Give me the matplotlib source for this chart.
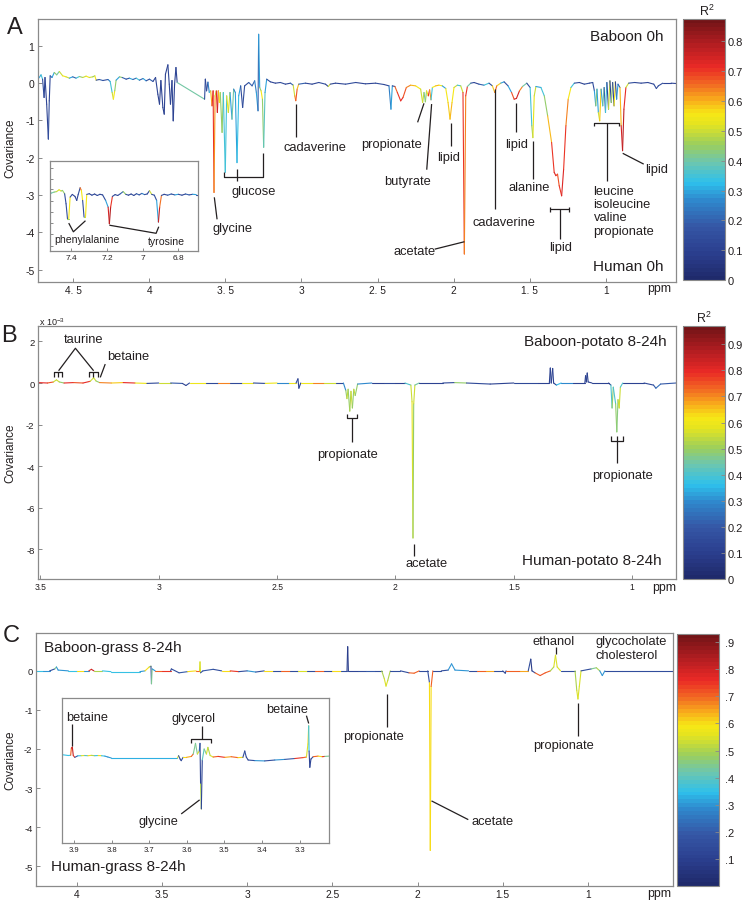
import numpy as np
import matplotlib
matplotlib.use('Agg')
import matplotlib.pyplot as plt
from matplotlib.collections import LineCollection
from matplotlib.colors import LinearSegmentedColormap, Normalize
from matplotlib.cm import ScalarMappable

plt.rcParams['font.family'] = ['Liberation Sans', 'DejaVu Sans']
plt.rcParams['axes.unicode_minus'] = False
plt.rcParams['mathtext.fontset'] = 'custom'
plt.rcParams['mathtext.rm'] = 'Liberation Sans'
plt.rcParams['mathtext.it'] = 'Liberation Sans:italic'

# ---------------- data: panel A (Baboon 0h vs Human 0h) ----------------
a_ppm = [4.725, 4.710, 4.700, 4.690, 4.684, 4.673, 4.662, 4.656, 4.650, 4.638, 4.623, 4.607, 4.590, 4.568,
         4.546, 4.524, 4.502, 4.480, 4.458, 4.436, 4.414, 4.393, 4.370, 4.357, 4.348, 4.327, 4.304, 4.270,
         4.256, 4.243, 4.235, 4.226, 4.217, 4.195, 4.177, 4.151, 4.130, 4.107, 4.085, 4.064, 4.040, 4.020,
         3.998, 3.975, 3.958, 3.943, 3.932, 3.923, 3.910, 3.901, 3.893, 3.877, 3.868, 3.860, 3.850, 3.842,
         3.833, 3.824, 3.816,
         3.636, 3.631, 3.623, 3.614, 3.605, 3.596, 3.587, 3.580, 3.574, 3.567, 3.559, 3.552, 3.546, 3.539,
         3.533, 3.521, 3.513, 3.500, 3.491, 3.480, 3.469, 3.456, 3.445, 3.434, 3.423, 3.412, 3.399, 3.386,
         3.373, 3.346, 3.324, 3.307, 3.296, 3.285, 3.281, 3.274, 3.265, 3.256, 3.248, 3.239, 3.228, 3.204,
         3.171, 3.138, 3.105, 3.072, 3.054, 3.044, 3.037, 3.028, 3.018, 2.974, 2.930, 2.886, 2.842, 2.824,
         2.811, 2.776, 2.710, 2.644, 2.579, 2.513, 2.458, 2.425, 2.412, 2.403, 2.386, 2.370, 2.348, 2.333,
         2.311, 2.283, 2.250,
         2.217, 2.204, 2.195, 2.186, 2.178, 2.167, 2.158, 2.149, 2.140, 2.118, 2.097, 2.075, 2.052, 2.037,
         2.024, 2.011, 1.998, 1.976, 1.954, 1.939, 1.930, 1.921, 1.910, 1.888, 1.866, 1.834, 1.801, 1.768,
         1.746, 1.730, 1.717, 1.691, 1.669, 1.643, 1.620, 1.603, 1.588, 1.568, 1.548, 1.520, 1.498, 1.487,
         1.480, 1.471, 1.460, 1.427, 1.405, 1.383, 1.357, 1.340, 1.329, 1.318, 1.307, 1.291, 1.278, 1.263,
         1.248, 1.230, 1.208, 1.175, 1.142, 1.109, 1.087, 1.076, 1.067, 1.059, 1.050, 1.041, 1.032, 1.021,
         1.012, 1.003, 0.994, 0.983, 0.974, 0.965, 0.956, 0.947, 0.938, 0.930, 0.921, 0.908, 0.900, 0.891,
         0.882, 0.869, 0.851, 0.812, 0.769, 0.725, 0.686, 0.669, 0.656, 0.627, 0.572, 0.540]
a_cov = [0.134, 0.223, 0.107, -0.384, 0.152, -0.563, -1.50, -0.474, 0.197, 0.152, 0.286, 0.223, 0.313, 0.197,
         0.170, 0.134, 0.170, 0.134, 0.179, 0.152, 0.188, 0.152, 0.170, 0.197, 0.080, 0.098, 0.071, 0.098,
         0.045, -0.250, -0.429, -0.206, 0.080, 0.170, 0.152, 0.107, 0.134, 0.098, 0.134, 0.080, 0.125, 0.063,
         0.107, 0.045, 0.152, -0.295, -0.563, 0.071, -0.652, -0.831, 0.241, 0.491, -0.027, -0.563, 0.071, -1.01,
         -0.027, 0.420, 0.018,
         -0.43, 0.107, -0.206, 0.027, -0.25, -0.206, -0.608, -0.206, -2.93, -0.34, -0.206, -0.786, -0.206, -0.519,
         -0.25, -1.32, -0.25, -2.39, -0.34, -0.786, -0.25, -0.965, -0.16, -0.25, -2.13, -0.34, -0.072, -0.652,
         -0.072, 0.018, -0.072, 0.063, -0.25, -0.741, 1.31, -0.116, -0.206, -0.429, -1.72, -0.25, 0.107, 0.036,
         0.0, 0.018, -0.027, 0.0, -0.054, -0.34, -0.47, -0.16, -0.027, 0.0, -0.027, 0.018, -0.027, -0.089,
         -0.027, 0.0, -0.027, 0.018, -0.018, 0.0, -0.036, -0.072, -0.697, -0.072, -0.089, -0.25, -0.474, -0.385,
         -0.116, -0.054, -0.072,
         -0.16, -0.519, -0.25, -0.5, -0.206, -0.34, -0.18, -0.447, -0.116, -0.072, -0.054, -0.072, -0.143, -0.519,
         -0.965, -0.519, -0.116, -0.054, -0.072, -0.25, -4.58, -0.34, -0.089, 0.0, 0.018, -0.027, -0.054, 0.0,
         -0.072, -0.25, -0.072, 0.0, 0.036, -0.072, -0.25, -0.429, -0.41, -0.206, -0.089, 0.0, -0.116, -1.14,
         -1.46, -0.34, -0.089, -0.116, -0.34, -0.875, -1.59, -2.39, -2.48, -2.44, -2.75, -3.02, -2.31, -1.14,
         -0.429, -0.116, 0.0, 0.018, -0.027, 0.0, 0.018, -0.206, -0.608, -0.16, -0.786, -1.01, -0.16, -0.608,
         -0.116, -0.786, 0.018, -0.697, 0.063, -0.519, 0.018, -0.608, 0.036, -0.429, -0.027, -0.116, -1.14, -1.81,
         -0.697, -0.116, 0.0, 0.018, 0.0, 0.018, -0.027, -0.143, -0.072, 0.0, 0.0, -0.009]
a_r2 = [0.30, 0.35, 0.15, 0.12, 0.12, 0.12, 0.15, 0.12, 0.20, 0.30, 0.45, 0.40, 0.50, 0.55,
        0.50, 0.30, 0.20, 0.35, 0.45, 0.50, 0.55, 0.50, 0.45, 0.55, 0.15, 0.20, 0.15, 0.25,
        0.35, 0.50, 0.55, 0.45, 0.30, 0.45, 0.20, 0.15, 0.30, 0.20, 0.35, 0.20, 0.30, 0.15,
        0.20, 0.12, 0.12, 0.10, 0.10, 0.12, 0.10, 0.10, 0.12, 0.12, 0.12, 0.10, 0.12, 0.10,
        0.12, 0.12, 0.40,
        0.15, 0.12, 0.15, 0.25, 0.35, 0.60, 0.72, 0.70, 0.62, 0.50, 0.72, 0.75, 0.60, 0.55,
        0.45, 0.45, 0.35, 0.35, 0.55, 0.50, 0.30, 0.40, 0.25, 0.30, 0.33, 0.30, 0.15, 0.15,
        0.15, 0.20, 0.20, 0.25, 0.30, 0.20, 0.30, 0.45, 0.55, 0.45, 0.38, 0.30, 0.15, 0.12,
        0.12, 0.15, 0.12, 0.20, 0.50, 0.62, 0.68, 0.60, 0.20, 0.12, 0.12, 0.15, 0.12, 0.50,
        0.12, 0.12, 0.15, 0.12, 0.12, 0.15, 0.12, 0.25, 0.30, 0.12, 0.66, 0.70, 0.72, 0.68,
        0.63, 0.60, 0.55,
        0.50, 0.50, 0.40, 0.45, 0.55, 0.72, 0.62, 0.35, 0.55, 0.60, 0.55, 0.30, 0.55, 0.58,
        0.60, 0.56, 0.50, 0.35, 0.50, 0.70, 0.63, 0.70, 0.40, 0.15, 0.12, 0.20, 0.35, 0.15,
        0.58, 0.66, 0.58, 0.30, 0.15, 0.30, 0.68, 0.75, 0.75, 0.63, 0.40, 0.15, 0.35, 0.45,
        0.52, 0.50, 0.30, 0.35, 0.45, 0.60, 0.70, 0.73, 0.70, 0.68, 0.70, 0.73, 0.70, 0.63,
        0.55, 0.35, 0.15, 0.10, 0.15, 0.12, 0.15, 0.30, 0.45, 0.30, 0.50, 0.58, 0.30, 0.40,
        0.20, 0.35, 0.12, 0.50, 0.10, 0.45, 0.10, 0.55, 0.12, 0.30, 0.20, 0.60, 0.75, 0.77,
        0.72, 0.50, 0.15, 0.12, 0.12, 0.12, 0.15, 0.15, 0.15, 0.12, 0.12, 0.12]

# panel A inset (aromatic region)
ai_ppm = [7.529, 7.513, 7.497, 7.483, 7.469, 7.458, 7.450, 7.438, 7.430, 7.422, 7.415, 7.407, 7.395, 7.380,
          7.370, 7.362, 7.351, 7.344, 7.337, 7.329, 7.321, 7.314, 7.300, 7.285, 7.270, 7.255, 7.240, 7.225,
          7.208, 7.194, 7.187, 7.180, 7.170, 7.155, 7.140, 7.125, 7.110, 7.095, 7.080, 7.065, 7.050, 7.035,
          7.020, 7.005, 6.990, 6.975, 6.962, 6.950, 6.935, 6.922, 6.912, 6.905, 6.895, 6.880, 6.860, 6.840,
          6.820, 6.800, 6.780, 6.760, 6.740, 6.720, 6.700, 6.690]
ai_cov = [0.078, 0.10, 0.133, 0.15, 0.211, 0.17, 0.189, 0.078, -0.256, -0.756, -0.756, -0.033, 0.056, -0.011,
          -0.144, 0.05, 0.278, 0.189, -0.144, -0.70, -0.70, 0.056, 0.08, 0.03, 0.07, 0.02, 0.06, 0.04,
          -0.144, -0.367, -0.922, -0.367, -0.011, 0.05, 0.02, 0.08, 0.15, 0.06, 0.03, 0.07, 0.02, 0.08,
          0.04, 0.09, 0.05, 0.07, 0.18, 0.06, 0.03, -0.144, -0.867, -0.367, 0.022, 0.06, 0.03, 0.07,
          0.04, 0.06, 0.03, 0.07, 0.04, 0.06, 0.05, 0.05]
ai_r2 = [0.35, 0.40, 0.45, 0.50, 0.55, 0.45, 0.45, 0.15, 0.15, 0.45, 0.55, 0.15, 0.12, 0.12,
         0.12, 0.15, 0.65, 0.55, 0.15, 0.45, 0.55, 0.15, 0.12, 0.15, 0.12, 0.15, 0.12, 0.15,
         0.30, 0.75, 0.78, 0.70, 0.15, 0.12, 0.15, 0.20, 0.45, 0.15, 0.12, 0.15, 0.12, 0.20,
         0.15, 0.25, 0.15, 0.12, 0.50, 0.15, 0.15, 0.30, 0.76, 0.65, 0.15, 0.12, 0.20, 0.15,
         0.30, 0.15, 0.12, 0.20, 0.15, 0.30, 0.15, 0.15]

# ---------------- data: panel B (x 1e-3) ----------------
b_ppm = [3.51, 3.47, 3.445, 3.432, 3.42, 3.40, 3.36, 3.32, 3.29, 3.275, 3.265, 3.25, 3.20, 3.15, 3.10,
         3.05, 3.00, 2.95, 2.90, 2.885, 2.87, 2.80, 2.75, 2.70, 2.65, 2.60, 2.55, 2.50, 2.45, 2.42,
         2.412, 2.408, 2.40, 2.35, 2.30, 2.25, 2.22, 2.21, 2.205, 2.20, 2.193, 2.188, 2.182, 2.176, 2.17,
         2.16, 2.10, 2.05, 2.00, 1.96, 1.935, 1.93, 1.926, 1.923, 1.918, 1.90, 1.80, 1.75, 1.70, 1.60,
         1.50, 1.40, 1.35, 1.346, 1.342, 1.336, 1.332, 1.32, 1.30, 1.25, 1.20, 1.197, 1.194, 1.19, 1.186,
         1.17, 1.10, 1.09, 1.085, 1.08, 1.07, 1.065, 1.06, 1.055, 1.05, 1.04, 0.95, 0.91, 0.90, 0.88, 0.815]
b_cov = [0.02, 0.0, 0.05, 0.15, 0.05, 0.0, 0.02, 0.0, 0.08, 0.25, 0.10, 0.02, 0.0, 0.02, 0.0,
         -0.02, 0.0, 0.0, -0.02, -0.12, 0.0, 0.0, 0.0, 0.0, 0.0, 0.0, -0.02, 0.0, 0.0, 0.0,
         0.20, -0.25, 0.0, 0.0, 0.0, 0.0, 0.0, -0.35, -0.75, -0.30, -1.35, -0.40, -1.20, -0.30, -0.60,
         -0.05, 0.0, 0.0, 0.0, 0.0, -0.10, -0.90, -7.45, -1.00, -0.10, 0.0, 0.0, 0.02, 0.0, -0.05,
         0.0, 0.0, 0.0, 0.72, 0.0, 0.70, 0.0, -0.10, 0.0, 0.0, 0.0, 0.35, 0.05, 0.48, 0.05,
         0.0, 0.0, -0.10, -1.20, -0.20, -1.00, -2.35, -0.80, -1.20, -0.20, 0.0, 0.0, -0.10, -0.25, -0.05, 0.0]
b_r2 = [0.80, 0.75, 0.55, 0.55, 0.50, 0.80, 0.75, 0.80, 0.55, 0.55, 0.50, 0.70, 0.65, 0.80, 0.60,
        0.15, 0.55, 0.20, 0.12, 0.15, 0.60, 0.15, 0.70, 0.15, 0.60, 0.15, 0.60, 0.30, 0.60, 0.15,
        0.12, 0.12, 0.60, 0.70, 0.55, 0.15, 0.30, 0.50, 0.55, 0.50, 0.52, 0.55, 0.50, 0.55, 0.50,
        0.30, 0.12, 0.15, 0.12, 0.40, 0.55, 0.58, 0.50, 0.56, 0.45, 0.12, 0.15, 0.50, 0.15, 0.12,
        0.15, 0.12, 0.12, 0.12, 0.12, 0.12, 0.12, 0.35, 0.30, 0.12, 0.12, 0.12, 0.12, 0.12, 0.12,
        0.12, 0.12, 0.40, 0.50, 0.40, 0.50, 0.48, 0.55, 0.55, 0.40, 0.12, 0.15, 0.20, 0.25, 0.20, 0.20]

# ---------------- data: panel C ----------------
c_ppm = [4.24, 4.20, 4.16, 4.13, 4.12, 4.11, 4.05, 4.00, 3.96, 3.93, 3.915, 3.90, 3.85, 3.80, 3.70,
         3.63, 3.60, 3.575, 3.565, 3.562, 3.558, 3.54, 3.50, 3.45, 3.445, 3.40, 3.35, 3.30, 3.28, 3.277,
         3.274, 3.26, 3.20, 3.15, 3.10, 3.05, 3.00, 2.95, 2.90, 2.85, 2.80, 2.75, 2.70, 2.65, 2.60,
         2.55, 2.50, 2.45, 2.414, 2.41, 2.406, 2.35, 2.30, 2.25, 2.21, 2.195, 2.185, 2.175, 2.16, 2.10,
         2.05, 2.02, 1.99, 1.94, 1.93, 1.925, 1.92, 1.91, 1.86, 1.82, 1.80, 1.78, 1.70, 1.65, 1.60,
         1.55, 1.50, 1.485, 1.48, 1.40, 1.35, 1.335, 1.328, 1.31, 1.28, 1.25, 1.22, 1.20, 1.19, 1.18,
         1.16, 1.10, 1.075, 1.065, 1.058, 1.05, 1.04, 0.98, 0.95, 0.93, 0.915, 0.90, 0.80, 0.70, 0.60, 0.50]
c_cov = [0.0, 0.0, 0.0, 0.05, 0.10, 0.02, 0.0, 0.0, 0.0, 0.0, 0.04, 0.0, 0.0, -0.02, -0.02,
         -0.02, 0.0, 0.10, 0.12, -0.33, 0.05, 0.0, 0.0, 0.0, 0.05, -0.05, -0.02, 0.0, 0.0, 0.23,
         -0.05, 0.0, 0.04, 0.0, 0.0, -0.02, 0.0, -0.03, 0.0, 0.0, 0.0, 0.0, 0.0, 0.0, 0.0,
         0.0, 0.0, 0.0, 0.0, 0.62, 0.0, 0.0, 0.0, 0.0, 0.0, -0.20, -0.39, -0.25, 0.0, 0.0,
         -0.05, -0.06, 0.0, 0.0, -0.30, -4.60, -0.40, 0.0, 0.0, 0.02, 0.18, 0.02, 0.0, 0.0, 0.0,
         0.0, 0.0, -0.06, 0.0, 0.0, 0.0, 0.30, 0.0, -0.05, -0.12, -0.05, 0.0, 0.10, 0.40, 0.10,
         0.0, 0.0, 0.0, -0.50, -0.72, -0.40, 0.0, 0.05, 0.08, 0.0, -0.12, 0.0, 0.0, 0.0, 0.0, 0.0]
c_r2 = [0.35, 0.30, 0.15, 0.45, 0.30, 0.30, 0.35, 0.60, 0.30, 0.75, 0.80, 0.50, 0.35, 0.35, 0.35,
        0.30, 0.60, 0.50, 0.15, 0.45, 0.30, 0.70, 0.75, 0.15, 0.15, 0.20, 0.60, 0.70, 0.55, 0.55,
        0.15, 0.20, 0.15, 0.60, 0.75, 0.15, 0.30, 0.15, 0.60, 0.15, 0.70, 0.15, 0.55, 0.15, 0.70,
        0.15, 0.60, 0.15, 0.12, 0.08, 0.12, 0.15, 0.20, 0.15, 0.50, 0.55, 0.55, 0.50, 0.15, 0.15,
        0.70, 0.70, 0.15, 0.15, 0.60, 0.60, 0.70, 0.15, 0.15, 0.30, 0.30, 0.30, 0.15, 0.70, 0.65,
        0.15, 0.15, 0.12, 0.70, 0.65, 0.15, 0.08, 0.12, 0.70, 0.72, 0.70, 0.50, 0.55, 0.55, 0.55,
        0.15, 0.15, 0.50, 0.55, 0.55, 0.55, 0.15, 0.45, 0.50, 0.30, 0.30, 0.15, 0.15, 0.15, 0.15, 0.12]

# panel C inset
ci_ppm = [3.932, 3.915, 3.909, 3.907, 3.9045, 3.902, 3.898, 3.890, 3.881, 3.872, 3.863, 3.854, 3.845, 3.836,
          3.827, 3.818, 3.810, 3.801, 3.625, 3.622, 3.618, 3.615, 3.610, 3.601, 3.588, 3.583, 3.577, 3.572,
          3.567, 3.565, 3.5635, 3.5615, 3.559, 3.554, 3.548, 3.544, 3.538, 3.530, 3.517, 3.499, 3.482, 3.464,
          3.451, 3.446, 3.442, 3.437, 3.419, 3.393, 3.366, 3.340, 3.313, 3.291, 3.282, 3.278, 3.276, 3.275,
          3.273, 3.270, 3.264, 3.251, 3.240, 3.233, 3.222]
ci_cov = [0.078, 0.05, 0.06, 0.30, 0.33, 0.05, -0.011, 0.04, 0.044, 0.05, 0.044, 0.055, 0.044, 0.05,
          0.044, 0.03, 0.0, -0.033, -0.033, 0.044, -0.067, -0.122, -0.011, -0.011, 0.02, 0.10, 0.456, 0.10,
          0.20, 0.456, -0.90, -1.733, -0.10, 0.267, 0.10, 0.322, 0.05, 0.0, 0.02, -0.011, 0.01, -0.02,
          -0.011, 0.20, 0.0, -0.10, -0.12, -0.13, -0.10, -0.08, -0.05, -0.02, 0.0, 0.433, 1.044, 0.20,
          -0.344, -0.067, 0.011, 0.03, 0.011, 0.02, 0.03]
ci_r2 = [0.35, 0.35, 0.70, 0.80, 0.80, 0.75, 0.20, 0.35, 0.55, 0.40, 0.60, 0.50, 0.35, 0.60,
         0.35, 0.30, 0.30, 0.33, 0.55, 0.15, 0.12, 0.15, 0.60, 0.65, 0.70, 0.45, 0.45, 0.55,
         0.25, 0.12, 0.50, 0.12, 0.40, 0.45, 0.55, 0.50, 0.55, 0.70, 0.75, 0.65, 0.70, 0.60,
         0.15, 0.15, 0.12, 0.15, 0.30, 0.15, 0.30, 0.20, 0.75, 0.70, 0.55, 0.60, 0.35, 0.12,
         0.12, 0.15, 0.70, 0.60, 0.75, 0.45, 0.70]

# ---------------- styling ----------------
W, H = 742, 903
fig = plt.figure(figsize=(W / 100, H / 100), dpi=100)
fig.patch.set_facecolor('white')
FRAME = '#8a8a8a'
TXT = '#231f20'
LBL = 9.3
LW = 0.8

anchors = [(0.0, '#1f2a6b'), (0.1, '#2b3f8f'), (0.2, '#3556a5'), (0.3, '#2f87cc'), (0.37, '#2ec0ec'),
           (0.45, '#6cc6b0'), (0.52, '#9ccf5c'), (0.6, '#e6e41f'), (0.64, '#f7e816'), (0.7, '#f8a41c'),
           (0.75, '#f26b22'), (0.82, '#ea2a26'), (0.9, '#b81e22'), (1.0, '#731417')]
cmap = LinearSegmentedColormap.from_list('softjet', anchors).resampled(64)


def fr(x0, y0, x1, y1):
    return [x0 / W, 1 - y1 / H, (x1 - x0) / W, (y1 - y0) / H]


def style(ax, xfs, yfs):
    ax.set_facecolor('white')
    for s in ax.spines.values():
        s.set_color(FRAME)
        s.set_linewidth(0.9)
    ax.tick_params(direction='in', length=3, width=0.7, color=FRAME, labelcolor=TXT, pad=2.5)
    ax.tick_params(axis='x', labelsize=xfs)
    ax.tick_params(axis='y', labelsize=yfs)


def spectrum(ax, x, y, c, norm, lw=LW):
    pts = np.column_stack([np.asarray(x, float), np.asarray(y, float)])
    segs = np.stack([pts[:-1], pts[1:]], axis=1)
    lc = LineCollection(segs, cmap=cmap, norm=norm, linewidths=lw, capstyle='round', joinstyle='round')
    lc.set_array(np.asarray(c, float)[:-1])
    ax.add_collection(lc)


def cbar(rect, vmax, ticks, labels, pad=2):
    cax = fig.add_axes(rect)
    norm = Normalize(0, vmax)
    cb = fig.colorbar(ScalarMappable(norm=norm, cmap=cmap), cax=cax, ticks=ticks)
    cb.ax.set_yticklabels(labels)
    cb.outline.set_edgecolor(FRAME)
    cb.outline.set_linewidth(0.8)
    cax.tick_params(direction='in', length=3, width=0.6, color=FRAME, labelsize=8, labelcolor=TXT, pad=pad)
    return norm


def seg(ax, xs, ys, lw=0.9):
    ax.plot(xs, ys, color=TXT, lw=lw, solid_capstyle='butt', clip_on=False, zorder=5)


def lab(ax, x, y, s, fs=LBL, ha='center', va='center', **kw):
    ax.text(x, y, s, fontsize=fs, ha=ha, va=va, color=TXT, zorder=6, **kw)


# ====================== Panel A ======================
axA = fig.add_axes(fr(38, 20, 676, 283))
style(axA, 7.3, 7.5)
normA = cbar(fr(683, 20, 725, 281), 0.875, [0, .1, .2, .3, .4, .5, .6, .7, .8],
             ['0', '0.1', '0.2', '0.3', '0.4', '0.5', '0.6', '0.7', '0.8'])
spectrum(axA, a_ppm, a_cov, a_r2, normA)
axA.set_xlim(4.73, 0.54)
axA.set_ylim(-5.33, 1.72)
axA.set_xticks([4.5, 4, 3.5, 3, 2.5, 2, 1.5, 1])
axA.set_xticklabels(['4. 5', '4', '3. 5', '3', '2. 5', '2', '1. 5', '1'])
axA.set_yticks([1, 0, -1, -2, -3, -4, -5])
axA.set_yticklabels(['1', '0', '-1', '-2', '-3', '-4', '-5'])

lab(axA, 0.98, 0.935, 'Baboon 0h', fs=11, ha='right', transform=axA.transAxes)
lab(axA, 0.98, 0.062, 'Human 0h', fs=11, ha='right', transform=axA.transAxes)

seg(axA, [3.572, 3.554], [-3.06, -3.65]); lab(axA, 3.454, -3.89, 'glycine')
seg(axA, [3.506, 3.506, 3.25, 3.25], [-2.39, -2.52, -2.52, -1.88])
seg(axA, [3.423, 3.423], [-2.31, -2.63]); lab(axA, 3.312, -2.90, 'glucose')
seg(axA, [3.033, 3.033], [-0.56, -1.45]); lab(axA, 2.908, -1.72, 'cadaverine')
seg(axA, [2.195, 2.237], [-0.54, -1.05]); lab(axA, 2.41, -1.64, 'propionate')
seg(axA, [2.145, 2.177], [-0.56, -2.32]); lab(axA, 2.302, -2.63, 'butyrate')
seg(axA, [2.019, 2.019], [-1.07, -1.68]); lab(axA, 2.036, -1.99, 'lipid')
seg(axA, [1.929, 2.125], [-4.25, -4.45]); lab(axA, 2.26, -4.50, 'acetate')
seg(axA, [1.728, 1.728], [-0.16, -3.38]); lab(axA, 1.673, -3.72, 'cadaverine')
seg(axA, [1.592, 1.592], [-0.52, -1.32]); lab(axA, 1.589, -1.64, 'lipid')
seg(axA, [1.48, 1.48], [-1.55, -2.57]); lab(axA, 1.503, -2.78, 'alanine')
seg(axA, [1.366, 1.366], [-3.32, -3.46]); seg(axA, [1.241, 1.241], [-3.32, -3.46])
seg(axA, [1.366, 1.241], [-3.38, -3.38]); seg(axA, [1.304, 1.304], [-3.38, -4.18])
lab(axA, 1.296, -4.40, 'lipid')
seg(axA, [1.081, 1.081, 0.916, 0.916], [-1.15, -1.07, -1.07, -1.15])
seg(axA, [0.993, 0.993], [-1.07, -2.62])
lab(axA, 1.081, -2.72, 'leucine\nisoleucine\nvaline\npropionate', ha='left', va='top', linespacing=1.15)
seg(axA, [0.89, 0.752], [-1.88, -2.17]); lab(axA, 0.74, -2.29, 'lipid', ha='left')

# inset A
axAi = fig.add_axes(fr(50, 162, 198, 252))
style(axAi, 6, 6)
spectrum(axAi, ai_ppm, ai_cov, ai_r2, normA)
axAi.set_xlim(7.52, 6.69)
axAi.set_ylim(-1.83, 1.17)
axAi.set_xticks([7.4, 7.2, 7.0, 6.8])
axAi.set_xticklabels(['7.4', '7.2', '7', '6.8'])
axAi.set_yticks([-1.66, -1.27, -0.90, -0.54, -0.16, 0.23, 0.57, 0.93])
axAi.set_yticklabels([])
axAi.tick_params(length=2.5, pad=2)
seg(axAi, [7.415, 7.389, 7.321], [-0.90, -1.19, -0.82])
lab(axAi, 7.313, -1.43, 'phenylalanine', fs=7.6)
seg(axAi, [7.187, 6.925, 6.91], [-0.97, -1.24, -1.02])
lab(axAi, 6.869, -1.51, 'tyrosine', fs=7.6)

# ====================== Panel B ======================
axB = fig.add_axes(fr(38, 327, 676, 580))
style(axB, 6.2, 6.8)
normB = cbar(fr(683, 327, 725, 580), 0.97, [0, .1, .2, .3, .4, .5, .6, .7, .8, .9],
             ['0', '0.1', '0.2', '0.3', '0.4', '0.5', '0.6', '0.7', '0.8', '0.9'])
spectrum(axB, b_ppm, b_cov, b_r2, normB)
axB.set_xlim(3.51, 0.815)
axB.set_ylim(-9.42, 2.74)
axB.set_xticks([3.5, 3, 2.5, 2, 1.5, 1])
axB.set_xticklabels(['3.5', '3', '2.5', '2', '1.5', '1'])
axB.set_yticks([2, 0, -2, -4, -6, -8])
axB.set_yticklabels(['2', '0', '-2', '-4', '-6', '-8'])

lab(axB, 0.986, 0.94, 'Baboon-potato 8-24h', fs=11, ha='right', transform=axB.transAxes)
lab(axB, 0.978, 0.075, 'Human-potato 8-24h', fs=11, ha='right', transform=axB.transAxes)

lab(axB, 3.317, 2.12, 'taurine')
seg(axB, [3.423, 3.352, 3.275], [0.59, 1.67, 0.59])
for xl, xr in [(3.441, 3.408), (3.296, 3.258)]:
    seg(axB, [xl, xl, xr, xr], [0.27, 0.54, 0.54, 0.27])
    seg(axB, [(xl + xr) / 2, (xl + xr) / 2], [0.54, 0.27])
lab(axB, 3.131, 1.31, 'betaine')
seg(axB, [3.226, 3.247], [0.91, 0.27])
seg(axB, [2.206, 2.206, 2.161, 2.161], [-1.49, -1.70, -1.70, -1.49])
seg(axB, [2.184, 2.184], [-1.70, -2.84]); lab(axB, 2.201, -3.41, 'propionate')
seg(axB, [1.923, 1.923], [-7.74, -8.30]); lab(axB, 1.867, -8.65, 'acetate')
seg(axB, [1.088, 1.088, 1.037, 1.037], [-2.53, -2.77, -2.77, -2.53])
seg(axB, [1.063, 1.063], [-2.53, -3.85]); lab(axB, 1.04, -4.41, 'propionate')

fig.text(39 / W, 1 - 322 / H, r'x 10$^{-3}$', fontsize=6.5, color=TXT, ha='left', va='center')

# ====================== Panel C ======================
axC = fig.add_axes(fr(36, 634, 673, 887))
style(axC, 7.4, 6.8)
normC = cbar(fr(677, 635, 719, 887), 0.93, [.1, .2, .3, .4, .5, .6, .7, .8, .9],
             ['.1', '.2', '.3', '.4', '.5', '.6', '.7', '.8', '.9'], pad=4)
spectrum(axC, c_ppm, c_cov, c_r2, normC)
axC.set_xlim(4.24, 0.50)
axC.set_ylim(-5.51, 0.97)
axC.set_xticks([4, 3.5, 3, 2.5, 2, 1.5, 1])
axC.set_xticklabels(['4', '3.5', '3', '2.5', '2', '1.5', '1'])
axC.set_yticks([0, -1, -2, -3, -4, -5])
axC.set_yticklabels(['0', '-1', '-2', '-3', '-4', '-5'])

lab(axC, 0.013, 0.943, 'Baboon-grass 8-24h', fs=11, ha='left', transform=axC.transAxes)
lab(axC, 0.023, 0.08, 'Human-grass 8-24h', fs=11, ha='left', transform=axC.transAxes)
seg(axC, [2.178, 2.178], [-0.59, -1.44]); lab(axC, 2.26, -1.66, 'propionate')
seg(axC, [1.918, 1.702], [-3.33, -3.81]); lab(axC, 1.684, -3.84, 'acetate', ha='left')
seg(axC, [1.057, 1.057], [-0.82, -1.66]); lab(axC, 1.141, -1.89, 'propionate')
lab(axC, 1.20, 0.76, 'ethanol')
seg(axC, [1.186, 1.186], [0.61, 0.44])
lab(axC, 0.953, 0.93, 'glycocholate\ncholesterol', ha='left', va='top', linespacing=1.22)

# inset C
axCi = fig.add_axes(fr(62, 699, 329, 844))
style(axCi, 5.5, 5.5)
spectrum(axCi, ci_ppm, ci_cov, ci_r2, normC)
axCi.set_xlim(3.932, 3.222)
axCi.set_ylim(-2.87, 1.97)
axCi.set_xticks([3.9, 3.8, 3.7, 3.6, 3.5, 3.4, 3.3])
axCi.set_xticklabels(['3.9', '3.8', '3.7', '3.6', '3.5', '3.4', '3.3'])
axCi.set_yticks([])
axCi.tick_params(length=2.5, pad=2)
lab(axCi, 3.865, 1.34, 'betaine', fs=9.2)
seg(axCi, [3.905, 3.905], [1.10, 0.38])
seg(axCi, [3.588, 3.588, 3.536, 3.536], [0.46, 0.60, 0.60, 0.46])
seg(axCi, [3.561, 3.561], [0.60, 1.04]); lab(axCi, 3.581, 1.29, 'glycerol', fs=9.2)
seg(axCi, [3.566, 3.615], [-1.43, -1.90]); lab(axCi, 3.675, -2.14, 'glycine', fs=9.2)
lab(axCi, 3.334, 1.60, 'betaine', fs=9.2)
seg(axCi, [3.282, 3.276], [1.38, 1.12])

# ====================== figure-level text ======================
for (x, y, s) in [(15, 28, 'A'), (9, 336, 'B'), (11, 636, 'C')]:
    fig.text(x / W, 1 - y / H, s, fontsize=17, color=TXT, ha='center', va='center')
for y in [148, 453, 760]:
    fig.text(10 / W, 1 - y / H, 'Covariance', fontsize=8.5, color=TXT, rotation=90, ha='center', va='center')
for (x, y) in [(659, 289), (664, 588), (659, 894)]:
    fig.text(x / W, 1 - y / H, 'ppm', fontsize=8.9, color=TXT, ha='center', va='center')
fig.text(707 / W, 1 - 11 / H, r'R$^2$', fontsize=9, color=TXT, ha='center', va='center')
fig.text(704 / W, 1 - 318 / H, r'R$^2$', fontsize=9, color=TXT, ha='center', va='center')

fig.savefig('out.png', dpi=100, facecolor='white')
